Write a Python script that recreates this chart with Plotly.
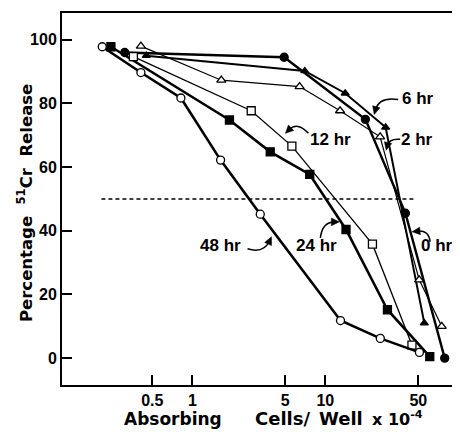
import plotly.graph_objects as go

# ---- data (cells/well x 1e-4, % 51Cr release) ----
x_0hr = [0.31, 4.9, 20.0, 40.0, 79.0]
y_0hr = [96.0, 94.5, 75.0, 45.5, 0.0]
x_2hr = [0.41, 1.65, 6.4, 12.9, 25.8, 50.8, 75.0]
y_2hr = [98.0, 87.3, 85.3, 77.7, 69.5, 24.6, 10.0]
x_6hr = [0.45, 7.0, 14.1, 28.4, 55.5]
y_6hr = [95.0, 90.2, 83.2, 72.5, 11.0]
x_12hr = [0.36, 2.77, 5.6, 22.6, 44.8]
y_12hr = [94.7, 77.7, 66.6, 35.8, 4.1]
x_24hr = [0.244, 1.9, 3.85, 7.63, 14.3, 29.3, 61.0]
y_24hr = [97.8, 74.8, 64.8, 57.7, 40.4, 15.2, 0.5]
x_48hr = [0.21, 0.41, 0.82, 1.63, 3.24, 13.0, 25.9, 51.0]
y_48hr = [97.8, 89.7, 81.7, 62.2, 45.2, 11.8, 6.2, 1.8]
ref_x = [0.207, 47.0]
ref_y = [50.0, 50.0]

x_ticks = [0.5, 1, 5, 10, 50]
x_ticklabels = ["0.5", "1", "5", "10", "50"]
y_ticks = [0, 20, 40, 60, 80, 100]
y_ticklabels = ["0", "20", "40", "60", "80", "100"]

FONT = "Liberation Sans"
TFONT = "DejaVu Sans"
OFF = 8                      # page body margin
W, H = 460 - OFF, 432 - OFF
RL, RR, RT, RB = 62, 456, 11, 385   # plot box in page pixels


def px(x):
    return (x - RL) / (RR - RL)


def py(y):
    return (RB - y) / (RB - RT)


fig = go.Figure()

fig.add_trace(go.Scatter(x=ref_x, y=ref_y, mode="lines",
                         line=dict(color="black", width=1.5, dash="4px,3px"),
                         showlegend=False))


def series(x, y, lw, symbol, size, fill):
    fig.add_trace(go.Scatter(
        x=x, y=y, mode="lines+markers",
        line=dict(color="black", width=lw),
        marker=dict(symbol=symbol, size=size, color=fill,
                    line=dict(color="black", width=1.3)),
        showlegend=False))


series(x_0hr, y_0hr, 2.4, "circle", 8, "black")
series(x_6hr, y_6hr, 2.0, "triangle-up", 7, "black")
series(x_24hr, y_24hr, 2.6, "square", 8, "black")
series(x_2hr, y_2hr, 1.2, "triangle-up", 8, "white")
series(x_12hr, y_12hr, 1.3, "square", 8, "white")
series(x_48hr, y_48hr, 2.6, "circle", 8, "white")

annotations = []
shapes = []

labels = [("6 hr", 419, 97), ("2 hr", 418, 138), ("12 hr", 331, 138),
          ("0 hr", 438, 245), ("24 hr", 317, 245), ("48 hr", 221, 245)]
for txt, cx, cy in labels:
    annotations.append(dict(text=f"<b>{txt}</b>", x=px(cx), y=py(cy),
                            xref="paper", yref="paper",
                            showarrow=False, xanchor="center", yanchor="middle",
                            font=dict(family=FONT, size=17, color="black")))

# curved arrows: tail, control, head (page pixels)
arrows = [((399, 98), (380, 95), (375, 113)),
          ((401, 138), (390, 137), (387, 149)),
          ((309, 132), (298, 120), (286, 132)),
          ((431, 241), (430, 229), (413, 231)),
          ((321, 237), (323, 221), (340, 221)),
          ((248, 248), (264, 253), (272, 236))]
for (tx, ty), (cx, cy), (hx, hy) in arrows:
    dx, dy = hx - cx, hy - cy
    n = (dx * dx + dy * dy) ** 0.5
    ux, uy = dx / n, dy / n
    bx, by = hx - ux * 8, hy - uy * 8          # base centre of the head
    ex, ey = hx - ux * 5, hy - uy * 5          # where the curve stops
    shapes.append(dict(type="path", xref="paper", yref="paper",
                       path=f"M {px(tx)},{py(ty)} Q {px(cx)},{py(cy)} {px(ex)},{py(ey)}",
                       line=dict(color="black", width=1.5)))
    p1 = (bx - uy * 3.8, by + ux * 3.8)
    p2 = (bx + uy * 3.8, by - ux * 3.8)
    shapes.append(dict(type="path", xref="paper", yref="paper",
                       path=(f"M {px(hx)},{py(hy)} L {px(p1[0])},{py(p1[1])} "
                             f"L {px(p2[0])},{py(p2[1])} Z"),
                       fillcolor="black", line=dict(color="black", width=0.5)))

# axis titles
title_font = dict(family=TFONT, size=17, color="black")
annotations += [
    dict(text="<b>Absorbing</b>", x=px(173), y=py(419), xref="paper", yref="paper",
         xanchor="center", yanchor="middle", showarrow=False, font=title_font),
    dict(text="<b>Cells/</b>", x=px(283), y=py(419), xref="paper", yref="paper",
         xanchor="center", yanchor="middle", showarrow=False,
         font=dict(family=TFONT, size=18, color="black")),
    dict(text="<b>Well</b>", x=px(342), y=py(419), xref="paper", yref="paper",
         xanchor="center", yanchor="middle", showarrow=False,
         font=dict(family=TFONT, size=18, color="black")),
    dict(text="<b>x 10<sup>-4</sup></b>", x=px(398), y=py(419), xref="paper", yref="paper",
         xanchor="center", yanchor="middle", showarrow=False,
         font=dict(family=TFONT, size=16, color="black")),
    dict(text="<b>Percentage\u00a0\u00a0<sup>51</sup>Cr\u00a0\u00a0Release</b>",
         x=px(25), y=py(202), xref="paper", yref="paper", showarrow=False, textangle=-90,
         xanchor="center", yanchor="middle",
         font=dict(family=TFONT, size=16.5, color="black")),
]

axis_common = dict(ticks="inside", ticklen=10, tickwidth=2, tickcolor="black",
                   showgrid=False, zeroline=False, showline=True, linecolor="black",
                   linewidth=2, mirror=True,
                   tickfont=dict(family=FONT, size=16, color="black"))

fig.update_layout(
    width=W, height=H,
    margin=dict(l=RL - OFF, r=W - (RR - OFF), t=RT - OFF, b=H - (RB - OFF)),
    paper_bgcolor="white", plot_bgcolor="white",
    annotations=annotations, shapes=shapes,
    xaxis=dict(type="log", range=[-0.9805, 1.975], tickvals=x_ticks,
               ticktext=[f"<b>{t}</b>" for t in x_ticklabels], **axis_common),
    yaxis=dict(range=[-8.44, 108.4], tickvals=y_ticks,
               ticktext=[f"<b>{t}</b>" for t in y_ticklabels], **axis_common),
)

fig.write_html("out.html")
